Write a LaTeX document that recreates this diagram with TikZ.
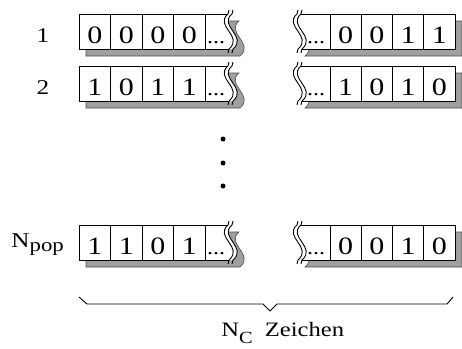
\documentclass[tikz,border=0pt]{standalone}
\usepackage{fontspec}
\setmainfont{Liberation Serif}[FakeStretch=1.2]
\usepackage{tikz}

% torn edge of a bit string, from the top corner down to the bottom one
\newcommand{\tear}[2]{.. controls ({#1-14},{#2+12}) and ({#1+16},{#2+22}) .. ({#1+1},{#2+35})}

\begin{document}
\begin{tikzpicture}[x=1pt,y=-1pt,line width=0.9pt,
    cell/.style={font=\fontsize{25}{25}\selectfont,inner sep=0pt,anchor=base},
    rowlabel/.style={font=\fontsize{21}{21}\selectfont,inner sep=0pt,anchor=base},
    shadowfill/.style={fill=gray!75,draw=gray!60!black,line width=0.6pt}]
  \useasboundingbox (0,0) rectangle (462,348);

  \foreach \t/\n/\a/\b/\c/\d/\e/\f/\g/\h in
      {14/1/0/0/0/0/0/0/1/1, 66/2/1/0/1/1/1/0/1/0, 225/p/1/1/0/1/0/0/1/0} {
    % shadows
    \begin{scope}[shift={(7,7)}]
      \filldraw[shadowfill] (79,\t) -- (232,\t) \tear{232}{\t} -- (79,\t+35) -- cycle;
      \filldraw[shadowfill] (297,\t) \tear{297}{\t} -- (455,\t+35) -- (455,\t) -- cycle;
    \end{scope}
    % left part
    \fill[white] (79,\t) -- (232,\t) \tear{232}{\t} -- (79,\t+35) -- cycle;
    \draw (228,\t) -- (79,\t) -- (79,\t+35) -- (229,\t+35);
    \draw (229,\t-4) -- (228,\t) \tear{228}{\t} -- ++(-1,4);
    \draw (233,\t-4) -- (232,\t) \tear{232}{\t} -- ++(-1,4);
    \foreach \x in {110.5,142,173.5,205}
      \draw (\x,\t) -- (\x,\t+35);
    \foreach \v [count=\i] in {\a,\b,\c,\d}
      \node[cell] (L\n\i) at ({79+31.5*\i-15.75},\t+29) {\v};
    \node[cell,font=\fontsize{20}{20}\selectfont] (L\n e) at (216,\t+29) {...};
    % right part
    \fill[white] (297,\t) \tear{297}{\t} -- (455,\t+35) -- (455,\t) -- cycle;
    \draw (301,\t) -- (455,\t) -- (455,\t+35) -- (302,\t+35);
    \draw (298,\t-4) -- (297,\t) \tear{297}{\t} -- ++(-1,4);
    \draw (302,\t-4) -- (301,\t) \tear{301}{\t} -- ++(-1,4);
    \foreach \x in {330,361.25,392.5,423.75}
      \draw (\x,\t) -- (\x,\t+35);
    \node[cell,font=\fontsize{20}{20}\selectfont] (R\n e) at (316,\t+29) {...};
    \foreach \v [count=\i] in {\e,\f,\g,\h}
      \node[cell] (R\n\i) at ({330+31.25*\i-15.625},\t+29) {\v};
  }

  \node[rowlabel] (n1) at (43,42) {1};
  \node[rowlabel] (n2) at (43,94) {2};
  \node[rowlabel,anchor=base west] (npop) at (11,247)
    {N\raisebox{-4pt}{\fontsize{19}{19}\selectfont pop}};

  % more rows
  \foreach \y in {139,163,186}
    \fill (223,\y) circle (2.5pt);

  % brace over all characters
  \draw[line width=0.9pt] (79,297) -- (87,304) -- (263,304) -- (270,311)
    -- (277,304) -- (447,304) -- (453,297);
  \node[rowlabel,anchor=base west,font=\fontsize{20.5}{20.5}\selectfont] (nc) at (221,336)
    {N\raisebox{-7pt}{\fontsize{17}{17}\selectfont C}\hspace{12pt}Zeichen};
\end{tikzpicture}
\end{document}
